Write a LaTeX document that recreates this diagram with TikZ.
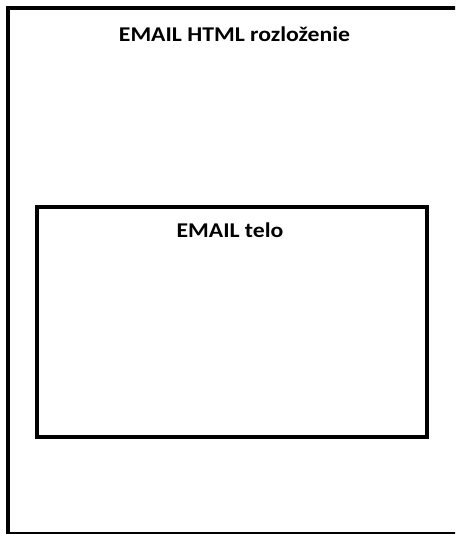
\documentclass[tikz,border=0pt]{standalone}
\usepackage{fontspec}
\setmainfont{Carlito}
\begin{document}
\begin{tikzpicture}[x=1pt,y=-1pt,
  box/.style={draw=black,line width=4pt,fill=none},
  lbl/.style={font=\fontsize{21}{25}\selectfont\bfseries,anchor=base,inner sep=0pt,xscale=1.13,transform shape}]
\useasboundingbox (0,0) rectangle (455,534);
\clip (0,0) rectangle (455,534);
\fill[white] (0,0) rectangle (455,534);
\draw[box] (8,8) rectangle (462,534);
\node[lbl] (title) at (234.5,41.7) {EMAIL HTML rozloženie};
\draw[box] (37,207) rectangle (427,437);
\node[lbl] (body) at (230,237) {EMAIL telo};
\end{tikzpicture}
\end{document}
